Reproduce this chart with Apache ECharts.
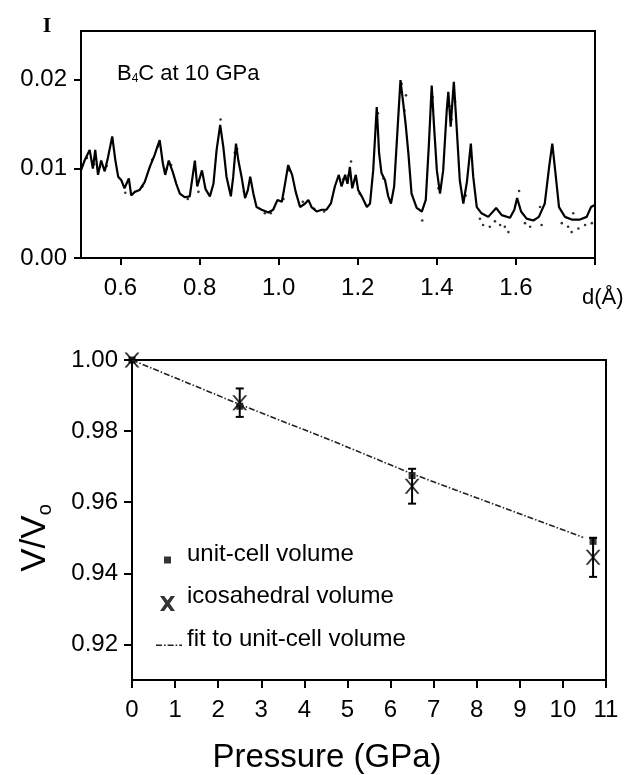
<!DOCTYPE html>
<html><head><meta charset="utf-8">
<script src="https://cdn.jsdelivr.net/npm/echarts@6/dist/echarts.min.js"></script>
<style>html,body{margin:0;padding:0;background:#fff}#c{width:627px;height:775px}</style>
</head><body><div id="c"></div>
<script>
const FONT = '"Liberation Sans", Arial, Helvetica, sans-serif';

// ---- Top panel: diffraction profile of B4C at 10 GPa ----
const calcProfile = [
[0.500,0.0098],[0.509,0.0109],[0.522,0.0121],[0.530,0.0100],[0.536,0.0121],[0.543,0.0093],
[0.551,0.0109],[0.560,0.0097],[0.568,0.0112],[0.579,0.0136],[0.587,0.0109],[0.594,0.0091],
[0.602,0.0087],[0.610,0.0078],[0.621,0.0089],[0.627,0.0070],[0.636,0.0074],[0.648,0.0076],
[0.661,0.0085],[0.674,0.0102],[0.686,0.0115],[0.699,0.0132],[0.707,0.0106],[0.713,0.0093],
[0.722,0.0109],[0.733,0.0095],[0.741,0.0083],[0.750,0.0072],[0.762,0.0068],[0.775,0.0069],
[0.788,0.0109],[0.794,0.0080],[0.806,0.0098],[0.815,0.0077],[0.826,0.0069],[0.835,0.0083],
[0.843,0.0121],[0.852,0.0149],[0.860,0.0124],[0.868,0.0091],[0.879,0.0069],[0.885,0.0091],
[0.892,0.0128],[0.898,0.0109],[0.906,0.0091],[0.915,0.0067],[0.922,0.0076],[0.928,0.0091],
[0.936,0.0072],[0.944,0.0057],[0.957,0.0054],[0.974,0.0051],[0.986,0.0054],[0.997,0.0065],
[1.008,0.0063],[1.016,0.0083],[1.024,0.0104],[1.034,0.0093],[1.043,0.0074],[1.054,0.0057],
[1.067,0.0061],[1.075,0.0065],[1.083,0.0057],[1.096,0.0052],[1.109,0.0054],[1.121,0.0054],
[1.132,0.0061],[1.142,0.0080],[1.152,0.0093],[1.159,0.0080],[1.168,0.0093],[1.174,0.0083],
[1.180,0.0102],[1.186,0.0078],[1.195,0.0093],[1.201,0.0076],[1.210,0.0069],[1.223,0.0057],
[1.231,0.0061],[1.239,0.0098],[1.248,0.0169],[1.254,0.0117],[1.260,0.0095],[1.269,0.0087],
[1.277,0.0069],[1.284,0.0061],[1.292,0.0080],[1.301,0.0147],[1.308,0.0199],[1.315,0.0173],
[1.321,0.0150],[1.328,0.0117],[1.336,0.0072],[1.349,0.0056],[1.362,0.0052],[1.372,0.0065],
[1.380,0.0128],[1.387,0.0193],[1.393,0.0147],[1.400,0.0098],[1.408,0.0072],[1.416,0.0098],
[1.425,0.0165],[1.429,0.0186],[1.435,0.0147],[1.439,0.0173],[1.443,0.0197],[1.450,0.0147],
[1.458,0.0087],[1.467,0.0061],[1.476,0.0085],[1.486,0.0128],[1.492,0.0091],[1.501,0.0057],
[1.513,0.0050],[1.530,0.0046],[1.550,0.0056],[1.564,0.0048],[1.585,0.0045],[1.596,0.0054],
[1.603,0.0067],[1.613,0.0052],[1.627,0.0044],[1.644,0.0042],[1.658,0.0046],[1.673,0.0061],
[1.684,0.0102],[1.692,0.0128],[1.700,0.0095],[1.709,0.0057],[1.724,0.0046],[1.741,0.0043],
[1.762,0.0043],[1.779,0.0046],[1.790,0.0057],[1.798,0.0059]
];
const observedPoints = [
[0.515,0.0112],[0.533,0.0105],[0.548,0.0102],[0.565,0.0103],[0.612,0.0073],[0.655,0.0080],
[0.680,0.0110],[0.695,0.0125],[0.717,0.0100],[0.728,0.0104],[0.770,0.0066],[0.797,0.0074],
[0.853,0.0155],[0.889,0.0118],[0.895,0.0122],[0.912,0.0074],[0.965,0.0050],[0.980,0.0050],
[1.012,0.0066],[1.027,0.0098],[1.061,0.0063],[1.090,0.0055],[1.115,0.0052],[1.163,0.0088],
[1.176,0.0092],[1.183,0.0108],[1.205,0.0072],[1.251,0.0162],[1.265,0.0089],[1.311,0.0195],
[1.318,0.0165],[1.322,0.0182],[1.363,0.0042],[1.389,0.0180],[1.404,0.0078],[1.432,0.0170],
[1.437,0.0155],[1.446,0.0175],[1.473,0.0070],[1.509,0.0044],[1.517,0.0037],[1.534,0.0035],
[1.547,0.0041],[1.560,0.0037],[1.572,0.0035],[1.581,0.0029],[1.608,0.0075],[1.623,0.0039],
[1.636,0.0035],[1.661,0.0057],[1.665,0.0037],[1.716,0.0039],[1.732,0.0035],[1.741,0.0029],
[1.745,0.0050],[1.758,0.0033],[1.775,0.0037],[1.792,0.0039]
];
const dTicks = [0.6,0.8,1.0,1.2,1.4,1.6,1.8];
const dLabels = [0.6,0.8,1.0,1.2,1.4,1.6];
const intensityTicks = [0,0.01,0.02];

// ---- Bottom panel: V/V0 vs pressure ----
const pressure = [0, 2.5, 6.5, 10.7];
const unitCellVolume = [1.000, 0.987, 0.9675, 0.949];
const icosahedralVolume = [1.000, 0.988, 0.9645, 0.9445];
const icosahedralErr = [0, 0.004, 0.0049, 0.0055];
const fitPressure = [0, 2.5, 4.6, 6.5, 8.5, 10.47];
const fitVolume = [1.000, 0.9875, 0.9775, 0.968, 0.9590, 0.9501];
const pressureTicks = [0,1,2,3,4,5,6,7,8,9,10,11];
const volumeTicks = [0.92,0.94,0.96,0.98,1.00];

const X_PATH = 'path://M0,0 L1.6,0 L5,4 L8.4,0 L10,0 L5.8,5 L10,10 L8.4,10 L5,6 L1.6,10 L0,10 L4.2,5 Z';
// legend icons: a tiny invisible anchor at top lowers the visible glyph relative to the text
const DOT = 'M0,0 l0.01,0 l-0.01,0.01 z ';
const LEG_SQUARE = 'path://' + DOT + 'M0,12 h7 v7 h-7 z';
const LEG_X = 'path://' + DOT + 'M0,10 L2.8,10 L5,13 L7.2,10 L10,10 L6.5,15 L10,20 L7.2,20 L5,17 L2.8,20 L0,20 L3.5,15 Z';
const LEG_DASHDOT = 'path://' + DOT + 'M0,12.4h6v1.6h-6z M8,12.4h1.6v1.6h-1.6z M11.6,12.4h6v1.6h-6z M19.6,12.4h1.6v1.6h-1.6z M23.2,12.4h2.8v1.6h-2.8z';

const axisTxt = {color:'#000', fontFamily:FONT, fontSize:24};
const blackLine = {lineStyle:{color:'#000', width:2}};
const legendText = (padLeft)=>({fontFamily:FONT, fontSize:24, color:'#000', padding:[0,0,12,padLeft]});

const chart = echarts.init(document.getElementById('c'), null, {renderer:'canvas'});
chart.setOption({
  animation:false,
  backgroundColor:'#fff',
  textStyle:{fontFamily:FONT, color:'#000'},
  grid:[
    {left:81, top:31, width:514, height:227, show:true, borderColor:'#000', borderWidth:2, containLabel:false},
    {left:132, top:360, width:474, height:320, show:true, borderColor:'#000', borderWidth:2, containLabel:false}
  ],
  title:[{
    text:'B{s|4}C at 10 GPa', left:112, top:58,
    textStyle:{fontFamily:FONT, fontSize:22, fontWeight:'normal', color:'#000',
      rich:{s:{fontFamily:FONT, fontSize:12, lineHeight:12, verticalAlign:'bottom', color:'#000'}}}
  }],
  graphic:[
    {type:'text', left:582, top:287, silent:true,
     style:{text:'d(Å)', fontFamily:FONT, fontSize:22, fill:'#000'}}
  ],
  xAxis:[
    {type:'value', gridIndex:0, min:0.5, max:1.8,
     axisLine:blackLine, splitLine:{show:false},
     axisTick:{customValues:dTicks, length:7, lineStyle:{color:'#000', width:2}},
     axisLabel:Object.assign({customValues:dLabels, margin:18, formatter:v=>v.toFixed(1)}, axisTxt)},
    {type:'value', gridIndex:1, min:0, max:11,
     axisLine:blackLine, splitLine:{show:false},
     axisTick:{customValues:pressureTicks, length:8, lineStyle:{color:'#000', width:2}},
     axisLabel:Object.assign({customValues:pressureTicks, margin:18, formatter:v=>String(v)}, axisTxt),
     name:'Pressure (GPa)', nameLocation:'middle', nameGap:61,
     nameTextStyle:{fontFamily:FONT, fontSize:33, color:'#000', padding:[0,84,0,0]}}
  ],
  yAxis:[
    {type:'value', gridIndex:0, min:0, max:0.0254,
     axisLine:blackLine, splitLine:{show:false},
     axisTick:{customValues:intensityTicks, length:7, lineStyle:{color:'#000', width:2}},
     axisLabel:Object.assign({customValues:intensityTicks, margin:14, formatter:v=>v.toFixed(2)}, axisTxt),
     name:'I', nameLocation:'end', nameGap:-6,
     nameTextStyle:{fontFamily:'"Liberation Serif", "Times New Roman", serif', fontWeight:'bold', fontSize:22, color:'#000', padding:[0,68,0,0]}},
    {type:'value', gridIndex:1, min:0.91, max:1.00,
     axisLine:blackLine, splitLine:{show:false},
     axisTick:{customValues:volumeTicks, length:8, lineStyle:{color:'#000', width:2}},
     axisLabel:Object.assign({customValues:volumeTicks, margin:14, formatter:v=>v.toFixed(2)}, axisTxt),
     name:'V/V{s|o}', nameLocation:'middle', nameGap:77,
     nameTextStyle:{fontFamily:FONT, fontSize:35, lineHeight:40, color:'#000', padding:[0,36,0,0],
       rich:{s:{fontFamily:FONT, fontSize:20, lineHeight:20, verticalAlign:'bottom', color:'#000'}}}}
  ],
  legend:[
    {data:[{name:'unit-cell volume', icon:LEG_SQUARE}], left:164, top:542, padding:0, selectedMode:false,
     itemWidth:7, itemHeight:19, itemGap:0, textStyle:legendText(11)},
    {data:[{name:'icosahedral volume', icon:LEG_X}], left:160, top:581, padding:0, selectedMode:false,
     itemWidth:15, itemHeight:30, itemGap:0, textStyle:legendText(7)},
    {data:[{name:'fit to unit-cell volume', icon:LEG_DASHDOT}], left:156, top:627, padding:0, selectedMode:false,
     itemWidth:26, itemHeight:14, itemGap:0, textStyle:legendText(0)}
  ],
  series:[
    {type:'scatter', name:'observed', xAxisIndex:0, yAxisIndex:0, data:observedPoints,
     symbol:'circle', symbolSize:2.6, itemStyle:{color:'#000'}, silent:true},
    {type:'line', name:'calculated', xAxisIndex:0, yAxisIndex:0, data:calcProfile,
     showSymbol:false, symbol:'none', itemStyle:{color:'#000'}, lineStyle:{color:'#000', width:2.2}, silent:true},
    {type:'line', name:'fit to unit-cell volume', xAxisIndex:1, yAxisIndex:1,
     data:fitPressure.map((p,i)=>[p, fitVolume[i]]),
     symbol:'none', showSymbol:false, itemStyle:{color:'#222'},
     lineStyle:{color:'#222', width:1.6, type:[6,2,1.5,2]}, silent:true},
    {type:'custom', name:'error', xAxisIndex:1, yAxisIndex:1, silent:true,
     data:pressure.map((p,i)=>[p, icosahedralVolume[i], icosahedralErr[i]]).filter(d=>d[2]>0),
     renderItem:function(params, api){
       const x=api.value(0), y=api.value(1), e=api.value(2);
       const t=api.coord([x, y+e]), b=api.coord([x, y-e]);
       const w=4, st={stroke:'#000', lineWidth:2};
       return {type:'group', children:[
         {type:'line', shape:{x1:t[0], y1:t[1], x2:b[0], y2:b[1]}, style:st},
         {type:'line', shape:{x1:t[0]-w, y1:t[1], x2:t[0]+w, y2:t[1]}, style:st},
         {type:'line', shape:{x1:b[0]-w, y1:b[1], x2:b[0]+w, y2:b[1]}, style:st}
       ]};
     }},
    {type:'scatter', name:'unit-cell volume', xAxisIndex:1, yAxisIndex:1,
     data:pressure.map((p,i)=>[p, unitCellVolume[i]]),
     symbol:'rect', symbolSize:7, itemStyle:{color:'#000'}, silent:true},
    {type:'scatter', name:'icosahedral volume', xAxisIndex:1, yAxisIndex:1,
     data:pressure.map((p,i)=>[p, icosahedralVolume[i]]),
     symbol:X_PATH, symbolSize:15, itemStyle:{color:'#000'}, silent:true}
  ]
});
</script></body></html>
